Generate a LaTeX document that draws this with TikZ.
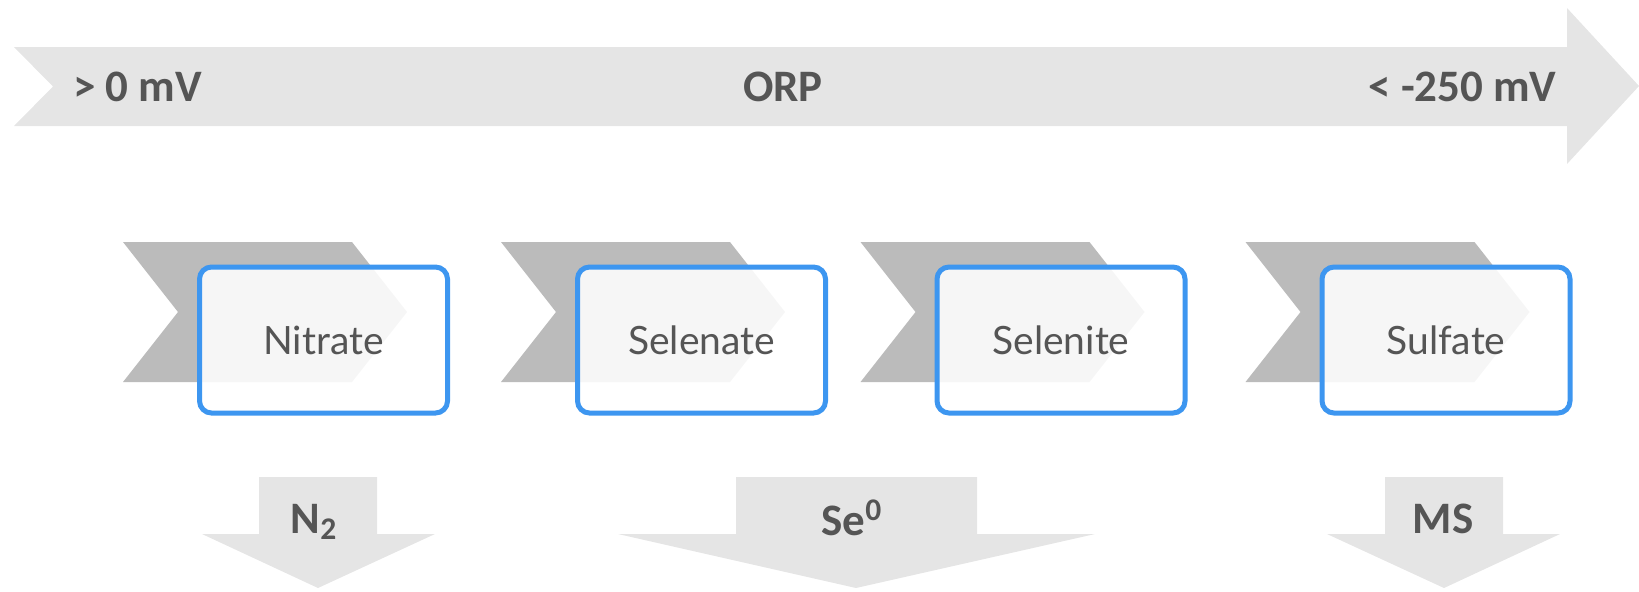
\documentclass[tikz,border=0pt]{standalone}
\usepackage{fontspec}
\setmainfont{Lato}
\newfontfamily\calib{Carlito}
\usepackage{xcolor}
\usetikzlibrary{calc}

\definecolor{bandgray}{HTML}{E5E5E5}
\definecolor{chevgray}{HTML}{BBBBBB}
\definecolor{boxblue}{HTML}{3D96F0}
\definecolor{textgray}{HTML}{555555}

\begin{document}
\begin{tikzpicture}[x=0.5pt, y=-0.5pt,
	stage/.style={draw=boxblue, line width=2.5pt, rounded corners=6pt, fill=white, fill opacity=0.88, text opacity=1,
		minimum width=124pt, minimum height=73pt, text=textgray, font=\fontsize{19.5}{20}\selectfont},
	arrowlabel/.style={text=textgray, inner sep=0pt, font=\calib\bfseries\fontsize{22.5}{23}\selectfont}]
	\useasboundingbox (0,0) rectangle (1639,591);

	% ORP band
	\fill[bandgray] (14,47) -- (1567,47) -- (1567,8) -- (1639,86) -- (1567,164) -- (1567,126) -- (14,126) -- (53,86.5) -- cycle;
	\node[arrowlabel, anchor=west] (highmv) at (73,87) {> 0 mV};
	\node[arrowlabel] (orp) at (783,87) {ORP};
	\node[arrowlabel, anchor=east] (lowmv) at (1557,87) {< -250 mV};

	% stages
	\foreach \x/\n/\t in {323.5/nitrate/Nitrate, 701.5/selenate/Selenate, 1061/selenite/Selenite, 1446/sulfate/Sulfate}{
		\fill[chevgray] ({\x-200.5},242) -- ({\x+28.5},242) -- ({\x+83.5},312) -- ({\x+28.5},382) -- ({\x-200.5},382) -- ({\x-145.5},312) -- cycle;
		\node[stage] (\n) at (\x,340) {\t};
	}

	% products
	\fill[bandgray] (259,477) -- (377,477) -- (377,534) -- (435,534) -- (318,588) -- (202,534) -- (259,534) -- cycle;
	\fill[bandgray] (736,477) -- (977,477) -- (977,534) -- (1095,534) -- (856,588) -- (618,534) -- (736,534) -- cycle;
	\fill[bandgray] (1385,477) -- (1503,477) -- (1503,534) -- (1560,534) -- (1444,588) -- (1327,534) -- (1385,534) -- cycle;
	\node[arrowlabel] (n2) at (314,522) {N\textsubscript{2}};
	\node[arrowlabel] (se0) at (852,518) {Se\textsuperscript{0}};
	\node[arrowlabel] (ms) at (1443,519) {MS};
\end{tikzpicture}
\end{document}
